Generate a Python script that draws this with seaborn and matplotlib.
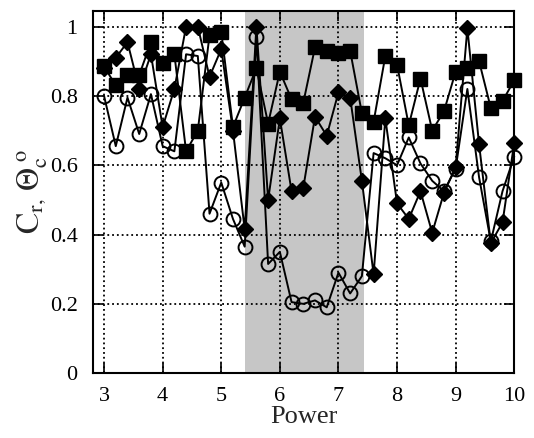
import numpy as np
import pandas as pd
import seaborn as sns
import matplotlib.pyplot as plt

# Power values, one point every 0.2 from 3 to 10
power = [3.0, 3.2, 3.4, 3.6, 3.8, 4.0, 4.2, 4.4, 4.6, 4.8,
         5.0, 5.2, 5.4, 5.6, 5.8, 6.0, 6.2, 6.4, 6.6, 6.8,
         7.0, 7.2, 7.4, 7.6, 7.8, 8.0, 8.2, 8.4, 8.6, 8.8,
         9.0, 9.2, 9.4, 9.6, 9.8, 10.0]

# filled squares
squares = [0.885, 0.83, 0.86, 0.86, 0.955, 0.895, 0.92, 0.64, 0.70, 0.975,
           0.985, 0.71, 0.795, 0.88, 0.72, 0.87, 0.79, 0.78, 0.94, 0.93,
           0.925, 0.93, 0.75, 0.725, 0.915, 0.89, 0.715, 0.85, 0.70, 0.755,
           0.87, 0.88, 0.90, 0.765, 0.785, 0.845]

# filled diamonds
diamonds = [0.88, 0.91, 0.955, 0.82, 0.92, 0.71, 0.82, 1.0, 1.0, 0.855,
            0.935, 0.70, 0.415, 1.0, 0.50, 0.735, 0.525, 0.535, 0.74, 0.685,
            0.81, 0.795, 0.555, 0.285, 0.735, 0.49, 0.445, 0.525, 0.405, 0.52,
            0.595, 0.995, 0.66, 0.375, 0.435, 0.665]

# open circles
circles = [0.80, 0.655, 0.795, 0.69, 0.805, 0.655, 0.64, 0.92, 0.915, 0.46,
           0.55, 0.445, 0.365, 0.97, 0.315, 0.35, 0.205, 0.20, 0.21, 0.19,
           0.29, 0.23, 0.28, 0.635, 0.62, 0.60, 0.68, 0.605, 0.555, 0.525,
           0.59, 0.82, 0.565, 0.38, 0.525, 0.625]

df = pd.DataFrame({'power': power, 'sq': squares, 'di': diamonds, 'ci': circles})

sns.set_style('ticks')
plt.rcParams['font.family'] = 'serif'
plt.rcParams['font.serif'] = ['Liberation Serif', 'DejaVu Serif']
plt.rcParams['mathtext.fontset'] = 'stix'

fig = plt.figure(figsize=(5.34, 4.38), dpi=100)
ax = fig.add_axes([0.174, 0.148, 0.789, 0.827])

# shaded band
ax.axvspan(5.4, 7.43, color='#c6c6c6', lw=0, zorder=0)

sns.lineplot(data=df, x='power', y='ci', ax=ax, color='black', lw=1.4,
             marker='o', markersize=10, markerfacecolor='none',
             markeredgecolor='black', markeredgewidth=1.4, errorbar=None,
             clip_on=False)
sns.lineplot(data=df, x='power', y='di', ax=ax, color='black', lw=1.4,
             marker='D', markersize=8, markerfacecolor='black',
             markeredgecolor='black', markeredgewidth=1, errorbar=None,
             clip_on=False)
sns.lineplot(data=df, x='power', y='sq', ax=ax, color='black', lw=1.4,
             marker='s', markersize=9.5, markerfacecolor='black',
             markeredgecolor='black', markeredgewidth=1, errorbar=None,
             clip_on=False)

ax.set_xlim(2.81, 10.0)
ax.set_ylim(0, 1.045)
ax.set_xticks([3, 4, 5, 6, 7, 8, 9, 10])
ax.set_yticks([0, 0.2, 0.4, 0.6, 0.8, 1.0])
ax.set_yticklabels(['0', '0.2', '0.4', '0.6', '0.8', '1'])
ax.grid(True, color='black', linestyle=':', linewidth=1.3)
for ln in ax.get_xgridlines() + ax.get_ygridlines():
    ln.set_zorder(0.5)

for s in ax.spines.values():
    s.set_visible(True)
    s.set_color('black')
    s.set_linewidth(1.5)
ax.tick_params(direction='in', length=7, width=1.2, labelsize=16,
               top=True, right=True, colors='black')
ax.tick_params(axis='x', pad=10)
ax.tick_params(axis='y', pad=11)

ax.set_xlabel('Power', fontsize=19, labelpad=0)
ax.set_ylabel(r'$\mathrm{C}_{\mathrm{r},}\,\Theta_{\mathrm{c}}^{\ \mathrm{o}}$', fontsize=23, labelpad=0)

fig.savefig('out.png', dpi=100)
